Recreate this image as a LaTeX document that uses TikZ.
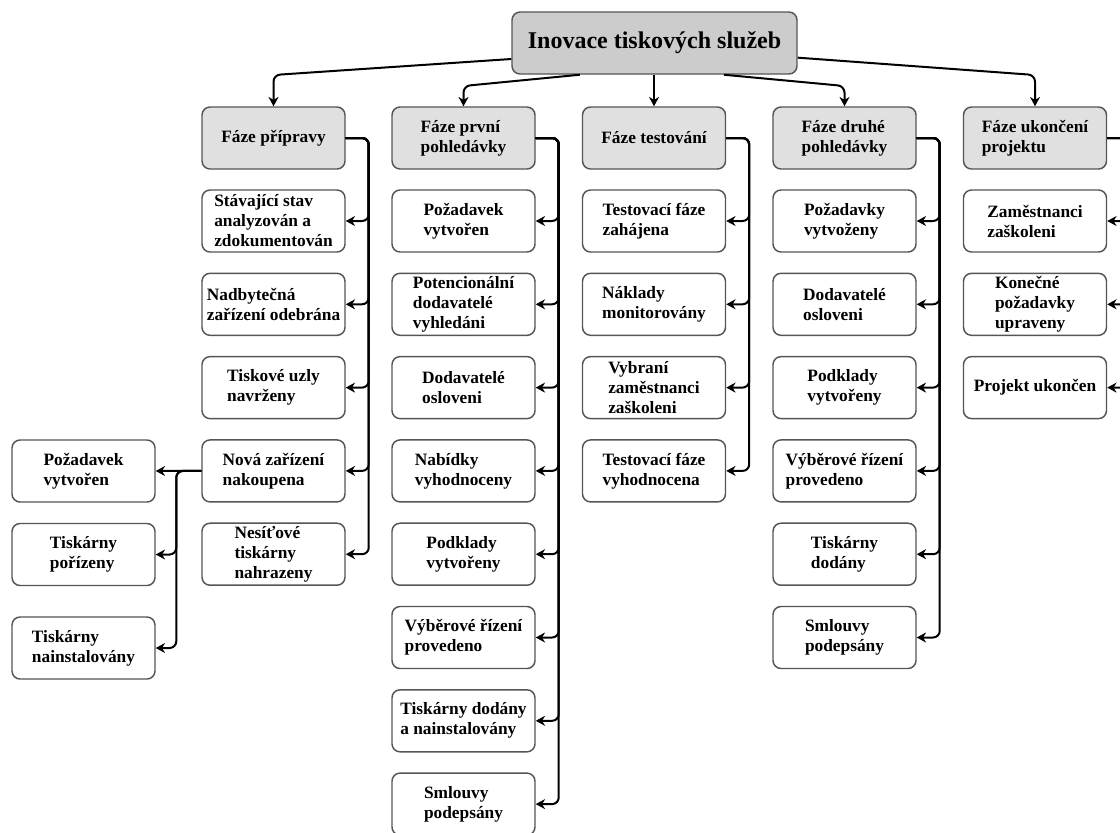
\documentclass[tikz,border=0pt]{standalone}
\usepackage{fontspec}
\setmainfont{Liberation Serif}
\usetikzlibrary{arrows.meta}

\definecolor{topgray}{HTML}{CCCCCC}
\definecolor{phasegray}{HTML}{E0E0E0}
\definecolor{edgegray}{HTML}{555555}

\begin{document}
\begin{tikzpicture}[
    x=0.75pt, y=-0.75pt,
    >={Stealth[length=7pt,width=7.5pt]},
    font=\bfseries\fontsize{13}{15}\selectfont,
    basebox/.style={draw=edgegray, line width=1.1pt, rounded corners=6pt,
                    minimum width=107.25pt, minimum height=46.5pt,
                    inner xsep=3pt, inner ysep=1pt, align=left},
    topbox/.style={basebox, fill=topgray, minimum width=213.75pt,
                   font=\bfseries\fontsize{18}{22}\selectfont},
    phasebox/.style={basebox, fill=phasegray},
    taskbox/.style={basebox, fill=white},
    link/.style={->, line width=1.5pt, rounded corners=5pt},
  ]
  \useasboundingbox (0,0) rectangle (1120,832);
  \clip (0,0) rectangle (1120,832);

  % ============================================================
  % Root and phases
  % ============================================================
  \node[topbox] (top) at (654.5, 43) {Inovace tiskových služeb};

  \node[phasebox] (f1) at (273.5, 138) {Fáze přípravy};
  \node[phasebox] (f2) at (463.5, 138) {Fáze první\\pohledávky};
  \node[phasebox] (f3) at (654, 138)   {Fáze testování};
  \node[phasebox] (f4) at (844.5, 138) {Fáze druhé\\pohledávky};
  \node[phasebox] (f5) at (1035, 138)  {Fáze ukončení\\projektu};

  % turning heights of the root links
  \coordinate (hi) at (0, 75);
  \coordinate (lo) at (0, 86);

  \draw[link] ([yshift=-12pt]top.west) -- (f1.north |- hi) -- (f1.north);
  \draw[link] ([xshift=-56pt]top.south) -- (f2.north |- lo) -- (f2.north);
  \draw[link] (f3.north |- top.south) -- (f3.north);
  \draw[link] ([xshift=52pt]top.south) -- (f4.north |- lo) -- (f4.north);
  \draw[link] ([yshift=-11pt]top.east) -- (f5.north |- hi) -- (f5.north);

  % ============================================================
  % Tasks of each phase
  % ============================================================
  \foreach \i/\t in {1/{Stávající stav\\analyzován a\\zdokumentován},
                     2/{Nadbytečná\\zařízení odebrána},
                     3/{Tiskové uzly\\navrženy},
                     4/{Nová zařízení\\nakoupena},
                     5/{Nesíťové\\tiskárny\\nahrazeny}} {
    \node[taskbox] (a\i) at (273.5, {221+(\i-1)*83.3}) {\t};
    \draw[link] (f1.east) -- ++(23,0) |- (a\i.east);
  }

  \foreach \i/\t in {1/{Požadavek\\vytvořen},
                     2/{Potencionální\\dodavatelé\\vyhledáni},
                     3/{Dodavatelé\\osloveni},
                     4/{Nabídky\\vyhodnoceny},
                     5/{Podklady\\vytvořeny},
                     6/{Výběrové řízení\\provedeno},
                     7/{Tiskárny dodány\\a nainstalovány},
                     8/{Smlouvy\\podepsány}} {
    \node[taskbox] (b\i) at (463.5, {221+(\i-1)*83.3}) {\t};
    \draw[link] (f2.east) -- ++(23,0) |- (b\i.east);
  }

  \foreach \i/\t in {1/{Testovací fáze\\zahájena},
                     2/{Náklady\\monitorovány},
                     3/{Vybraní\\zaměstnanci\\zaškoleni},
                     4/{Testovací fáze\\vyhodnocena}} {
    \node[taskbox] (c\i) at (654, {221+(\i-1)*83.3}) {\t};
    \draw[link] (f3.east) -- ++(23,0) |- (c\i.east);
  }

  \foreach \i/\t in {1/{Požadavky\\vytvoženy},
                     2/{Dodavatelé\\osloveni},
                     3/{Podklady\\vytvořeny},
                     4/{Výběrové řízení\\provedeno},
                     5/{Tiskárny\\dodány},
                     6/{Smlouvy\\podepsány}} {
    \node[taskbox] (d\i) at (844.5, {221+(\i-1)*83.3}) {\t};
    \draw[link] (f4.east) -- ++(23,0) |- (d\i.east);
  }

  \foreach \i/\t in {1/{Zaměstnanci\\zaškoleni},
                     2/{Konečné\\požadavky\\upraveny},
                     3/{Projekt ukončen}} {
    \node[taskbox] (e\i) at (1035, {221+(\i-1)*83.3}) {\t};
    \draw[link] (f5.east) -- ++(23,0) |- (e\i.east);
  }

  % ============================================================
  % Sub-tasks of "Nová zařízení nakoupena"
  % ============================================================
  \node[taskbox] (g1) at (83.5, 471)   {Požadavek\\vytvořen};
  \node[taskbox] (g2) at (83.5, 554.5) {Tiskárny\\pořízeny};
  \node[taskbox] (g3) at (83.5, 648)   {Tiskárny\\nainstalovány};

  \draw[link] (a4.west) -- (g1.east);
  \draw[link] (a4.west) -- ++(-25,0) |- (g2.east);
  \draw[link] (a4.west) -- ++(-25,0) |- (g3.east);

\end{tikzpicture}
\end{document}
